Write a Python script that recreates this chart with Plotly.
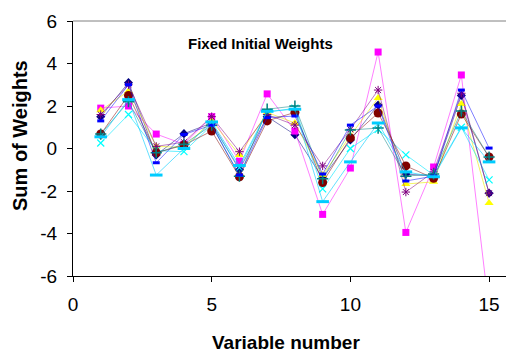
import plotly.graph_objects as go

variables = list(range(1, 16))

navy_diamond = [1.5, 3.1, -0.3, 0.7, 1.2, -1.0, 1.5, 0.65, -1.4, 0.4, 2.05, -1.2, -1.3, 2.5, -2.1]
magenta_square = [1.9, 2.0, 0.68, 0.2, 1.5, -0.6, 2.57, 0.82, -3.1, -0.92, 4.54, -3.95, -0.87, 3.46, -7.6]
yellow_triangle = [1.8, 2.7, 0.1, 0.05, 1.3, -0.3, 1.7, 1.2, -1.25, 0.6, 2.38, -1.67, -1.57, 2.1, -2.56]
cyan_x = [0.26, 1.6, -0.1, -0.15, 1.1, -0.9, 1.7, 1.9, -1.9, 0.0, 0.9, -0.3, -1.25, 1.0, -1.48]
purple_star = [1.6, 3.0, 0.1, 0.3, 1.5, -0.15, 1.6, 1.1, -0.82, 0.9, 2.75, -2.05, -1.1, 2.6, -2.1]
maroon_circle = [0.68, 2.5, -0.2, 0.16, 0.82, -1.33, 1.3, 1.7, -1.6, 0.5, 1.67, -0.82, -1.4, 1.62, -0.4]
teal_plus = [0.68, 2.2, -0.2, 0.2, 1.1, -1.3, 1.85, 2.0, -1.42, 0.87, 0.96, -1.3, -1.2, 1.76, -0.4]
blue_dash = [1.3, 3.0, -0.67, 0.66, 1.1, -1.25, 1.45, 1.53, -1.2, 1.1, 2.0, -1.53, -1.3, 2.75, 0.02]
sky_bar = [0.55, 2.3, -1.25, 0.0, 1.25, -0.8, 1.75, 1.85, -2.5, -0.63, 1.2, -1.1, -1.33, 0.97, -0.63]

series = [
    ("Run 1", navy_diamond, "#000080", "rgba(0,0,128,0.5)", dict(symbol="diamond", size=7)),
    ("Run 2", magenta_square, "#FF00FF", "rgba(255,0,255,0.5)", dict(symbol="square", size=7)),
    ("Run 3", yellow_triangle, "#FFFF00", "rgba(235,235,0,0.6)", dict(symbol="triangle-up", size=8)),
    ("Run 4", cyan_x, "#00FFFF", "rgba(0,230,255,0.6)", dict(symbol="x-thin-open", size=7, line=dict(width=1.2, color="#00FFFF"))),
    ("Run 5", purple_star, "#800080", "rgba(128,0,128,0.5)", dict(symbol="asterisk-open", size=7, line=dict(width=1, color="#800080"))),
    ("Run 6", maroon_circle, "#800000", "rgba(128,0,0,0.5)", dict(symbol="circle", size=9)),
    ("Run 7", teal_plus, "#008080", "rgba(0,128,128,0.5)", dict(symbol="cross-thin-open", size=8, line=dict(width=1.5, color="#008080"))),
    ("Run 8", blue_dash, "#0000FF", "rgba(0,0,255,0.5)", dict(symbol="line-ew-open", size=5, line=dict(width=3, color="#0000FF"))),
    ("Run 9", sky_bar, "#00CCFF", "rgba(0,204,255,0.6)", dict(symbol="line-ew-open", size=9, line=dict(width=3, color="#00CCFF"))),
]

fig = go.Figure()
for name, vals, mcol, lcol, mk in series:
    marker = dict(color=mcol, **mk)
    fig.add_trace(go.Scatter(
        x=variables, y=vals, mode="lines+markers", name=name,
        line=dict(color=lcol, width=1), marker=marker,
    ))

font_family = "Liberation Sans, Arial, sans-serif"

fig.update_layout(
    width=506, height=352,
    margin=dict(l=73, r=0, t=21, b=76),
    paper_bgcolor="white", plot_bgcolor="white",
    showlegend=False,
    font=dict(family=font_family, color="black"),
    xaxis=dict(
        range=[0, 15.61], tickvals=[0, 5, 10, 15], ticktext=["0", "5", "10", "15"],
        showgrid=False, zeroline=False, showline=True, linecolor="black", linewidth=1,
        ticks="outside", ticklen=5, tickcolor="black", tickfont=dict(size=19),
        automargin=False, ticklabelstandoff=6,
    ),
    yaxis=dict(
        range=[-6, 6], tickvals=[-6, -4, -2, 0, 2, 4, 6], ticktext=["-6", "-4", "-2", "0", "2", "4", "6"],
        showgrid=False, zeroline=False, showline=True, linecolor="black", linewidth=1,
        ticks="outside", ticklen=5, tickcolor="black", tickfont=dict(size=19),
        automargin=False, ticklabelstandoff=6,
    ),
    shapes=[dict(type="line", xref="paper", yref="paper", x0=0, x1=1, y0=1, y1=1,
                 line=dict(color="#808080", width=1))],
    annotations=[
        dict(text="<b>Fixed Initial Weights</b>", xref="paper", yref="paper", x=0.432, y=0.91,
             showarrow=False, font=dict(size=15, family=font_family), xanchor="center", yanchor="middle"),
        dict(text="<b>Sum of Weights</b>", xref="paper", yref="paper", x=-0.1224, y=0.549,
             showarrow=False, textangle=-90, font=dict(size=20, family=font_family), xanchor="center", yanchor="middle"),
        dict(text="<b>Variable number</b>", xref="paper", yref="paper", x=0.492, y=-0.259,
             showarrow=False, font=dict(size=19, family=font_family), xanchor="center", yanchor="middle"),
    ],
)

fig.write_html("out.html", config={"displayModeBar": False},
               post_script="document.body.style.margin='0';document.body.style.padding='0';")
